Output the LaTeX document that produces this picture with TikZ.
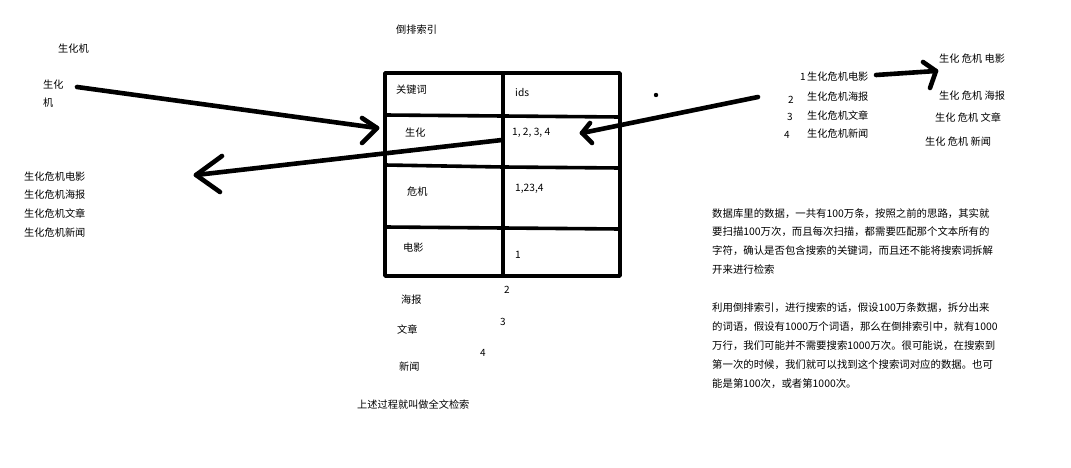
\documentclass[tikz,border=0pt]{standalone}
\usepackage{fontspec}
\newfontfamily\cjk{Noto Sans CJK SC}
\begin{document}
\begin{tikzpicture}[x=1pt,y=-1pt,
  txt/.style={font=\cjk\fontsize{10.2}{12}\selectfont, inner sep=0pt, anchor=west},
  ptxt/.style={font=\cjk\fontsize{10.4}{12}\selectfont, inner sep=0pt, anchor=west},
  numc/.style={font=\cjk\fontsize{10}{12}\selectfont, inner sep=0pt, anchor=center},
  tbl/.style={line width=3.6pt, line cap=round, line join=round},
  harrow/.style={line width=4.6pt, line cap=round, line join=round}]
\useasboundingbox (0,0) rectangle (1071,468);
\fill[white] (0,0) rectangle (1071,468);

% ---- table ----
\coordinate (tl) at (385,73);
\coordinate (br) at (620,276);
\coordinate (mt) at (503,73);
\coordinate (mb) at (503,276);
\draw[tbl] (tl) rectangle (br);
\draw[tbl] (mt) -- (mb);
\coordinate (r1l) at (385,115); \coordinate (r1m) at (503,116); \coordinate (r1r) at (620,117);
\coordinate (r2l) at (385,165); \coordinate (r2m) at (503,167); \coordinate (r2r) at (620,168);
\coordinate (r3l) at (385,227); \coordinate (r3m) at (503,228); \coordinate (r3r) at (620,229);
\draw[tbl] (r1l) -- (r1m) -- (r1r);
\draw[tbl] (r2l) -- (r2m) -- (r2r);
\draw[tbl] (r3l) -- (r3m) -- (r3r);

\node[txt] (title) at (396,30) {倒排索引};
\node[txt] (k0) at (396,90) {关键词};
\node[txt] (v0) at (515,93) {ids};
\node[txt] (k1) at (405,133) {生化};
\node[txt] (v1) at (512,133) {1, 2, 3, 4};
\node[txt] (k2) at (407,192) {危机};
\node[txt] (v2) at (515,189) {1,23,4};
\node[txt] (k3) at (403,248) {电影};
\node[txt] (v3) at (515,255) {1};

\node[numc] (n2) at (507,290) {2};
\node[txt] (k4) at (401,300) {海报};
\node[numc] (n3) at (503,322) {3};
\node[txt] (k5) at (397,330) {文章};
\node[numc] (n4) at (483,353) {4};
\node[txt] (k6) at (399,367) {新闻};
\node[txt] (summary) at (357,405) {上述过程就叫做全文检索};

% ---- left ----
\node[txt] (q0) at (58,49) {生化机};
\node[txt] (q1) at (43,85) {生化};
\node[txt] (q2) at (43,103) {机};
\node[txt] (l1) at (24,177) {生化危机电影};
\node[txt] (l2) at (24,195) {生化危机海报};
\node[txt] (l3) at (24,214) {生化危机文章};
\node[txt] (l4) at (24,233) {生化危机新闻};

% ---- right list ----
\node[numc] (m1) at (803,77) {1};
\node[txt] (d1) at (807,77) {生化危机电影};
\node[numc] (m2) at (791,100) {2};
\node[txt] (d2) at (807,97) {生化危机海报};
\node[numc] (m3) at (790,117) {3};
\node[txt] (d3) at (807,116) {生化危机文章};
\node[numc] (m4) at (787,135) {4};
\node[txt] (d4) at (807,134) {生化危机新闻};

\node[txt] (s1) at (939,59) {生化 危机 电影};
\node[txt] (s2) at (939,96) {生化 危机 海报};
\node[txt] (s3) at (935,118) {生化 危机 文章};
\node[txt] (s4) at (925,142) {生化 危机 新闻};

% ---- paragraphs ----
\node[ptxt] (p1) at (712,214) {数据库里的数据，一共有100万条，按照之前的思路，其实就};
\node[ptxt] (p2) at (712,232) {要扫描100万次，而且每次扫描，都需要匹配那个文本所有的};
\node[ptxt] (p3) at (712,251) {字符，确认是否包含搜索的关键词，而且还不能将搜索词拆解};
\node[ptxt] (p4) at (712,270) {开来进行检索};
\node[ptxt] (p5) at (712,308) {利用倒排索引，进行搜索的话，假设100万条数据，拆分出来};
\node[ptxt] (p6) at (712,327) {的词语，假设有1000万个词语，那么在倒排索引中，就有1000};
\node[ptxt] (p7) at (712,346) {万行，我们可能并不需要搜索1000万次。很可能说，在搜索到};
\node[ptxt] (p8) at (712,365) {第一次的时候，我们就可以找到这个搜索词对应的数据。也可};
\node[ptxt] (p9) at (712,384) {能是第100次，或者第1000次。};

% ---- arrows ----
\coordinate (a1s) at (77,87);
\coordinate (a1t) at (377,128);
\coordinate (a1u) at (362,118);
\coordinate (a1d) at (362,143);
\draw[harrow] (a1s) -- (a1t);
\draw[harrow] (a1u) -- (a1t) -- (a1d);

\coordinate (a2s) at (502,140);
\coordinate (a2t) at (196,175);
\coordinate (a2u) at (222,156);
\coordinate (a2d) at (220,192);
\draw[harrow] (a2s) -- (a2t);
\draw[harrow] (a2u) -- (a2t) -- (a2d);

\coordinate (a3s) at (758,97);
\coordinate (a3t) at (582,133);
\coordinate (a3u) at (590,123);
\coordinate (a3d) at (592,143);
\draw[harrow] (a3s) -- (a3t);
\draw[harrow] (a3u) -- (a3t) -- (a3d);

\coordinate (a4s) at (876,75);
\coordinate (a4t) at (936,71);
\coordinate (a4u) at (923,62);
\coordinate (a4d) at (930,88);
\draw[harrow] (a4s) -- (a4t);
\draw[harrow] (a4u) -- (a4t) -- (a4d);

\fill (656,95) circle (2.2pt);
\end{tikzpicture}
\end{document}
